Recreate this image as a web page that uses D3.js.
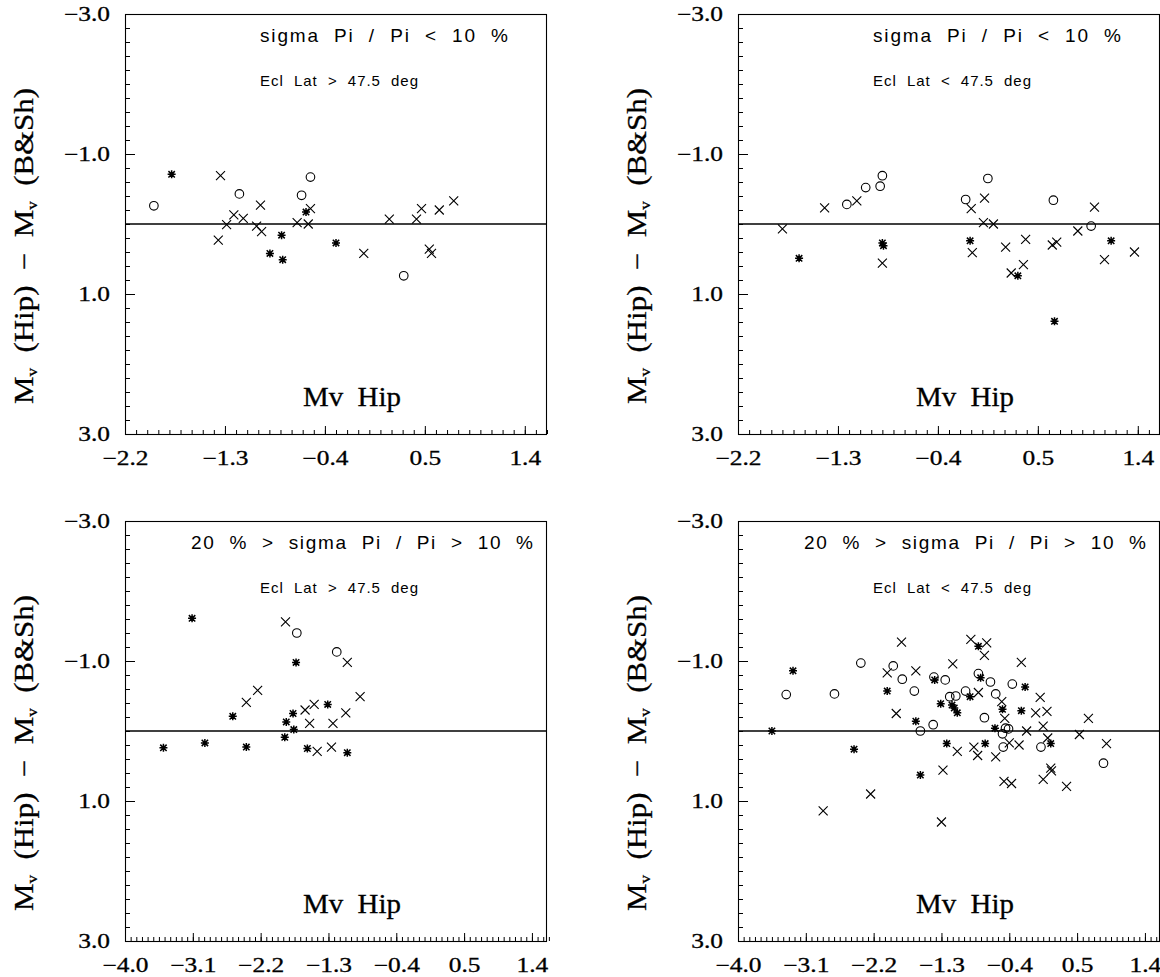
<!DOCTYPE html>
<html><head><meta charset="utf-8">
<script src="https://cdn.jsdelivr.net/npm/d3@7"></script>
<style>
body{margin:0;background:#fff}
svg{display:block}
text{fill:#000}
.ann{font-family:"Liberation Sans",Arial,sans-serif;white-space:pre}
.ser{font-family:"Liberation Serif","Times New Roman",serif;white-space:pre}
</style>
</head><body>
<svg id="c" width="1160" height="977"></svg>
<script>
// ---------- tick labels ----------
const yTickLabels = [-3.0, -1.0, 1.0, 3.0];
const xTickLabelsTop = [-2.2, -1.3, -0.4, 0.5, 1.4];
const xTickLabelsBottom = [-4.0, -3.1, -2.2, -1.3, -0.4, 0.5, 1.4];

// ---------- texts ----------
const titleTop = "sigma  Pi  /  Pi  <  10  %";
const titleBottom = "20  %  >  sigma  Pi  /  Pi  >  10  %";
const latNorth = "Ecl  Lat  >  47.5  deg";
const latSouth = "Ecl  Lat  <  47.5  deg";
const xTitle = "Mv  Hip";

// ---------- panel 1 : top-left ----------
const p1Circles = [[-1.94,-0.26],[-1.17,-0.43],[-0.61,-0.41],[-0.53,-0.67],[0.31,0.74]];
const p1Stars = [[-1.78,-0.71],[-0.79,0.16],[-0.895,0.42],[-0.78,0.51],[-0.57,-0.17],[-0.30,0.27]];
const p1Crosses = [[-1.34,-0.69],[-1.36,0.23],[-1.285,0.01],[-1.22,-0.13],[-1.135,-0.08],[-1.015,0.03],
  [-0.98,-0.27],[-0.97,0.11],[-0.65,-0.02],[-0.55,0.0],[-0.53,-0.22],[-0.05,0.42],[0.18,-0.07],
  [0.425,-0.07],[0.47,-0.22],[0.54,0.36],[0.56,0.42],[0.63,-0.20],[0.76,-0.33]];

// ---------- panel 2 : top-right ----------
const p2Circles = [[-1.22,-0.28],[-1.05,-0.52],[-0.92,-0.54],[-0.90,-0.69],[-0.15,-0.35],[0.05,-0.65],[0.64,-0.34],[0.98,0.03]];
const p2Stars = [[-1.65,0.49],[-0.90,0.27],[-0.89,0.31],[-0.11,0.24],[0.32,0.74],[0.65,1.39],[1.16,0.24]];
const p2Crosses = [[-1.80,0.07],[-1.42,-0.23],[-1.13,-0.33],[-0.90,0.56],[-0.10,-0.22],[-0.09,0.41],
  [0.02,-0.37],[0.01,-0.02],[0.10,0.0],[0.21,0.33],[0.26,0.70],[0.37,0.58],[0.39,0.22],[0.63,0.30],
  [0.67,0.26],[0.86,0.10],[1.01,-0.24],[1.10,0.51],[1.37,0.40]];

// ---------- panel 3 : bottom-left ----------
const p3Circles = [[-1.72,-1.40],[-1.19,-1.13]];
const p3Stars = [[-3.49,0.24],[-3.11,-1.61],[-2.94,0.17],[-2.57,-0.21],[-2.39,0.23],[-1.88,0.09],
  [-1.86,-0.13],[-1.77,-0.25],[-1.76,-0.02],[-1.73,-0.98],[-1.58,0.25],[-1.31,-0.38],[-1.05,0.31]];
const p3Crosses = [[-1.87,-1.56],[-2.39,-0.41],[-2.24,-0.58],[-1.61,-0.30],[-1.49,-0.38],[-1.55,-0.11],
  [-1.45,0.29],[-1.26,0.23],[-1.24,-0.11],[-1.07,-0.26],[-1.05,-0.98],[-0.88,-0.49]];

// ---------- panel 4 : bottom-right ----------
const p4Circles = [[-3.36,-0.52],[-2.72,-0.53],[-2.37,-0.97],[-1.94,-0.93],[-1.82,-0.74],[-1.66,-0.57],
  [-1.58,0.0],[-1.41,-0.09],[-1.40,-0.77],[-1.25,-0.73],[-1.19,-0.49],[-1.11,-0.50],[-0.98,-0.57],
  [-0.81,-0.82],[-0.73,-0.19],[-0.65,-0.70],[-0.58,-0.53],[-0.49,0.04],[-0.48,0.23],[-0.45,-0.04],
  [-0.41,-0.03],[-0.36,-0.67],[0.02,0.23],[0.85,0.46]];
const p4Stars = [[-3.55,0.0],[-3.27,-0.86],[-2.46,0.26],[-2.02,-0.57],[-1.64,-0.14],[-1.58,0.63],
  [-1.39,-0.73],[-1.31,-0.39],[-1.23,0.18],[-1.16,-0.37],[-1.13,-0.33],[-1.09,-0.26],[-0.92,-0.49],
  [-0.81,-1.21],[-0.78,-0.76],[-0.72,0.18],[-0.59,-0.04],[-0.49,-0.31],[-0.24,-0.29],[-0.19,-0.63],[0.15,0.18]];
const p4Crosses = [[-2.87,1.14],[-2.24,0.90],[-2.02,-0.83],[-1.90,-0.25],[-1.83,-1.27],[-1.64,-0.86],
  [-1.30,1.30],[-1.28,0.56],[-1.15,-0.96],[-1.09,0.29],[-0.91,-1.31],[-0.87,0.23],[-0.82,0.35],
  [-0.81,-0.55],[-0.73,-1.08],[-0.70,-1.26],[-0.58,0.37],[-0.50,-0.42],[-0.47,0.72],[-0.46,-0.18],
  [-0.40,0.17],[-0.37,0.75],[-0.27,0.20],[-0.24,-0.98],[-0.17,0.0],[-0.05,-0.26],[0.01,-0.48],
  [0.05,-0.07],[0.05,0.69],[0.10,-0.28],[0.11,0.10],[0.15,0.53],[0.16,0.57],[0.36,0.79],[0.53,0.05],
  [0.65,-0.18],[0.89,0.18]];

const panels = [
  {left:125, top:14,  xDomain:[-2.2,1.6], xMajor:xTickLabelsTop,    nMinor:9,  title:titleTop,    titleX:260, titleW:248, lat:latNorth,
   circles:p1Circles, stars:p1Stars, crosses:p1Crosses},
  {left:738, top:14,  xDomain:[-2.2,1.6], xMajor:xTickLabelsTop,    nMinor:9,  title:titleTop,    titleX:260, titleW:248, lat:latSouth,
   circles:p2Circles, stars:p2Stars, crosses:p2Crosses},
  {left:125, top:521, xDomain:[-4.0,1.6], xMajor:xTickLabelsBottom, nMinor:12, title:titleBottom, titleX:191, titleW:342, lat:latNorth,
   circles:p3Circles, stars:p3Stars, crosses:p3Crosses},
  {left:738, top:521, xDomain:[-4.0,1.6], xMajor:xTickLabelsBottom, nMinor:12, title:titleBottom, titleX:191, titleW:342, lat:latSouth,
   circles:p4Circles, stars:p4Stars, crosses:p4Crosses}
];

const W = 422, H = 420;
const svg = d3.select("#c");
const fmt = v => (v < 0 ? "\u2212" : "") + Math.abs(v).toFixed(1);
const STRETCH = 1.27;

panels.forEach(p => {
  const g = svg.append("g").attr("transform", `translate(${p.left},${p.top})`);
  const x = d3.scaleLinear().domain(p.xDomain).range([0, W]);
  const y = d3.scaleLinear().domain([-3, 3]).range([0, H]);

  const step = 0.9 / p.nMinor;
  const nx = Math.round((p.xDomain[1] - p.xDomain[0]) / step);
  const xMinor = d3.range(0, nx + 1).map(i => p.xDomain[0] + i * step);
  const yMinor = d3.range(0, 31).map(i => -3 + i * 0.2);

  const ax1 = g.append("g").attr("transform", `translate(0,${H})`)
    .call(d3.axisBottom(x).tickValues(xMinor).tickSize(-4).tickFormat(""));
  const ax2 = g.append("g").attr("transform", `translate(0,${H})`)
    .call(d3.axisBottom(x).tickValues(p.xMajor).tickSize(-8).tickPadding(17).tickFormat(fmt));
  const ay1 = g.append("g").call(d3.axisLeft(y).tickValues(yMinor).tickSize(-5).tickFormat(""));
  const ay2 = g.append("g").call(d3.axisLeft(y).tickValues(yTickLabels).tickSize(-10).tickPadding(15).tickFormat(fmt));
  [ax1, ax2, ay1, ay2].forEach(a => {
    a.select(".domain").remove();
    a.selectAll("line").attr("stroke", "#000").attr("stroke-width", 1);
    a.selectAll("text").attr("class", "ser").attr("font-size", 20)
      .style("font-family", '"Liberation Serif",serif').style("stroke", "#000").style("stroke-width", 0.3);
  });

  // frame
  g.append("rect").attr("x", 0.5).attr("y", 0.5).attr("width", W - 1).attr("height", H)
    .attr("fill", "none").attr("stroke", "#000").attr("stroke-width", 1.1);

  // zero line
  g.append("line").attr("x1", 0).attr("x2", W).attr("y1", y(0)).attr("y2", y(0))
    .attr("stroke", "#000").attr("stroke-width", 1.4);

  // texts
  g.append("text").attr("class", "ann").attr("x", p.titleX - 125).attr("y", 28)
    .attr("font-size", 19).attr("fill", "#1a1a1a").attr("textLength", p.titleW).attr("lengthAdjust", "spacing").text(p.title);
  g.append("text").attr("class", "ann").attr("x", 260 - 125).attr("y", 72)
    .attr("font-size", 15).attr("fill", "#1a1a1a").attr("textLength", 158).attr("lengthAdjust", "spacing").text(p.lat);
  g.append("text").attr("class", "ser").attr("x", 303 - 125).attr("y", 392)
    .attr("font-size", 27).attr("textLength", 98).attr("lengthAdjust", "spacingAndGlyphs")
    .style("stroke", "#000").style("stroke-width", 0.3).text(xTitle);

  // y title (rotated, stretched to the measured length)
  const yg = svg.append("g").attr("transform", `translate(${p.left - 92},${p.top + 232}) rotate(-90)`);
  const yt = yg.append("text").attr("class", "ser").attr("text-anchor", "middle").attr("font-size", 27)
    .style("stroke", "#000").style("stroke-width", 0.3);
  yt.append("tspan").text("M");
  yt.append("tspan").attr("font-size", 15).attr("dy", 4).text("v");
  yt.append("tspan").attr("dy", -4).text("  (Hip)  \u2212  M");
  yt.append("tspan").attr("font-size", 15).attr("dy", 4).text("v");
  yt.append("tspan").attr("dy", -4).text("  (B&Sh)");
  const L = yt.node().getComputedTextLength();
  yt.attr("transform", `scale(${316 / L},1)`);

  // markers
  const mk = g.append("g").attr("fill", "none").attr("stroke", "#000");
  mk.selectAll("circle.o").data(p.circles).join("circle").attr("class", "o")
    .attr("cx", d => x(d[0])).attr("cy", d => y(d[1])).attr("r", 4.3).attr("stroke-width", 1.1);
  mk.selectAll("path.x").data(p.crosses).join("path").attr("class", "x")
    .attr("transform", d => `translate(${x(d[0])},${y(d[1])})`)
    .attr("d", "M-4.5,-4.5L4.5,4.5M-4.5,4.5L4.5,-4.5").attr("stroke-width", 1.1);
  mk.selectAll("path.s").data(p.stars).join("path").attr("class", "s")
    .attr("transform", d => `translate(${x(d[0])},${y(d[1])})`)
    .attr("d", "M-4,0L4,0M0,-4L0,4M-3.2,-3.2L3.2,3.2M-3.2,3.2L3.2,-3.2").attr("stroke-width", 1.5);
});

// stretch tick labels horizontally to match the wide serif glyphs
svg.selectAll(".tick text").each(function() {
  const L = this.getComputedTextLength();
  if (L > 0) d3.select(this).attr("textLength", L * STRETCH).attr("lengthAdjust", "spacingAndGlyphs");
});
</script>
</body></html>
